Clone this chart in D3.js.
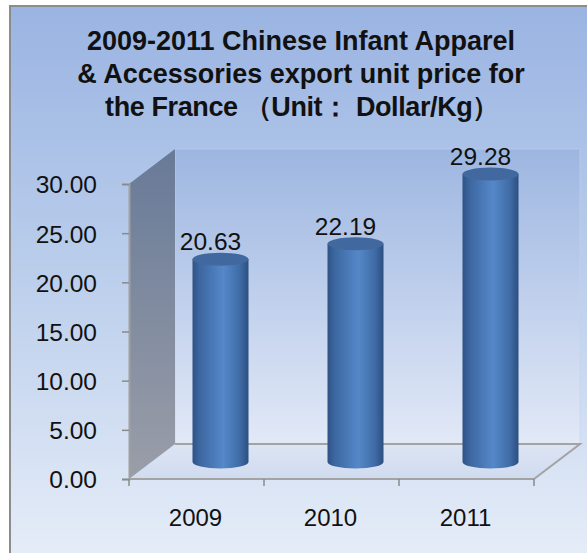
<!DOCTYPE html>
<html><head><meta charset="utf-8">
<script src="https://cdn.jsdelivr.net/npm/d3@7"></script>
<style>html,body{margin:0;padding:0;background:#fff}svg{display:block}text{font-family:"Liberation Sans",Arial,sans-serif}</style>
</head><body><div id="c"></div>
<script>
const categories=["2009","2010","2011"];
const values=[20.63,22.19,29.28];
const valueLabels=["20.63","22.19","29.28"];
const yTicks=[0,5,10,15,20,25,30];
const titleLines=["2009-2011 Chinese Infant Apparel","& Accessories export unit price for","the France （Unit： Dollar/Kg）"];

const W=587,H=553;
const svg=d3.select("#c").append("svg").attr("width",W).attr("height",H);
const defs=svg.append("defs");
function lin(id,stops,x2,y2){
  const g=defs.append("linearGradient").attr("id",id).attr("x1",0).attr("y1",0).attr("x2",x2).attr("y2",y2);
  stops.forEach(s=>g.append("stop").attr("offset",s[0]).attr("stop-color",s[1]));
}
lin("bg",[[0,"#9ab4e2"],[0.5,"#bccfec"],[1,"#e6edf8"]],0,1);
lin("back",[[0,"#9db6e1"],[1,"#e2e9f7"]],0,1);
lin("floor",[[0,"#dde5f4"],[1,"#d0dbef"]],0,1);
lin("wall",[[0,"#687a98"],[1,"#9a9ea8"]],0,1);
lin("cyl",[[0,"#2f5285"],[0.12,"#3c669f"],[0.55,"#5588c9"],[0.85,"#3f6ba5"],[1,"#2c4f80"]],1,0);

svg.append("rect").attr("x",10).attr("y",6).attr("width",W).attr("height",H).attr("fill","url(#bg)").attr("stroke","#8c8c8c").attr("stroke-width",2);

const y=d3.scaleLinear().domain([0,30]).range([479,184]);
const x=d3.scaleBand().domain(categories).range([129,534]);
const dx=46,dy=-35;
const rx=28, ry=6.5;
const line=d3.line();

svg.append("rect").attr("x",x.range()[0]+dx).attr("y",y(30)+dy).attr("width",x.range()[1]-x.range()[0]).attr("height",y(0)-y(30))
  .attr("fill","url(#back)").attr("stroke","#c6d4ee").attr("stroke-opacity",.6);
svg.append("path").attr("d",line([[129,y(0)],[534,y(0)],[534+dx,y(0)+dy],[129+dx,y(0)+dy]])+"Z")
  .attr("fill","url(#floor)");
svg.append("path").attr("d",line([[129+dx,y(0)+dy],[534+dx,y(0)+dy],[534,y(0)]]))
  .attr("fill","none").attr("stroke","#a3a3a3").attr("stroke-width",2);
svg.append("path").attr("d",line([[129,y(30)],[129+dx,y(30)+dy],[129+dx,y(0)+dy],[129,y(0)]])+"Z")
  .attr("fill","url(#wall)");

const axisY=svg.append("g").attr("transform","translate(129,0)").call(d3.axisLeft(y).tickValues(yTicks).tickSize(7).tickPadding(7).tickFormat(d3.format(".2f")));
axisY.selectAll("line").attr("stroke","#8a8a8a").attr("stroke-width",1.5);
axisY.select(".domain").attr("stroke","#a0a0a0").attr("stroke-width",2);
axisY.selectAll("text").attr("font-size",24.5).attr("fill","#111").attr("x",-32).attr("y",1);

const axisX=svg.append("g").attr("transform","translate(0,479)");
axisX.append("line").attr("x1",129).attr("x2",534).attr("stroke","#a3a3a3").attr("stroke-width",2);
axisX.selectAll("line.t").data(categories.concat("end")).join("line").attr("class","t")
  .attr("x1",(d,i)=>i<3?x(d):x.range()[1]).attr("x2",(d,i)=>i<3?x(d):x.range()[1]).attr("y1",0).attr("y2",7)
  .attr("stroke","#8a8a8a").attr("stroke-width",1.5);
axisX.selectAll("text").data(categories).join("text")
  .attr("x",d=>x(d)+x.bandwidth()/2-1).attr("y",47).attr("text-anchor","middle")
  .attr("font-size",24).attr("fill","#111").text(d=>d);

const cx=d=>x(d)+x.bandwidth()/2+24;
const baseY=y(0)-17;
const h=v=>y(0)-y(v);
const g=svg.selectAll("g.bar").data(categories).join("g").attr("class","bar");
g.append("path").attr("d",(d,i)=>{
  const c=cx(d),t=baseY-h(values[i]);
  return `M${c-rx},${t}L${c-rx},${baseY}A${rx},${ry} 0 0 0 ${c+rx},${baseY}L${c+rx},${t}Z`;
}).attr("fill","url(#cyl)");
g.append("ellipse").attr("cx",cx).attr("cy",(d,i)=>baseY-h(values[i])).attr("rx",rx).attr("ry",ry).attr("fill","#41699f");
g.append("text").attr("x",d=>cx(d)-10).attr("y",(d,i)=>baseY-h(values[i])-9).attr("text-anchor","middle")
  .attr("font-size",24.5).attr("fill","#111").text((d,i)=>valueLabels[i]);

svg.append("g").selectAll("text").data(titleLines).join("text")
  .attr("x",(d,i)=>i==2?302:301).attr("y",(d,i)=>50+i*33.2).attr("text-anchor","middle")
  .attr("font-size",27).attr("font-weight","bold").attr("letter-spacing",(d,i)=>i==2?-0.4:0).attr("fill","#111").text(d=>d);
</script></body></html>
